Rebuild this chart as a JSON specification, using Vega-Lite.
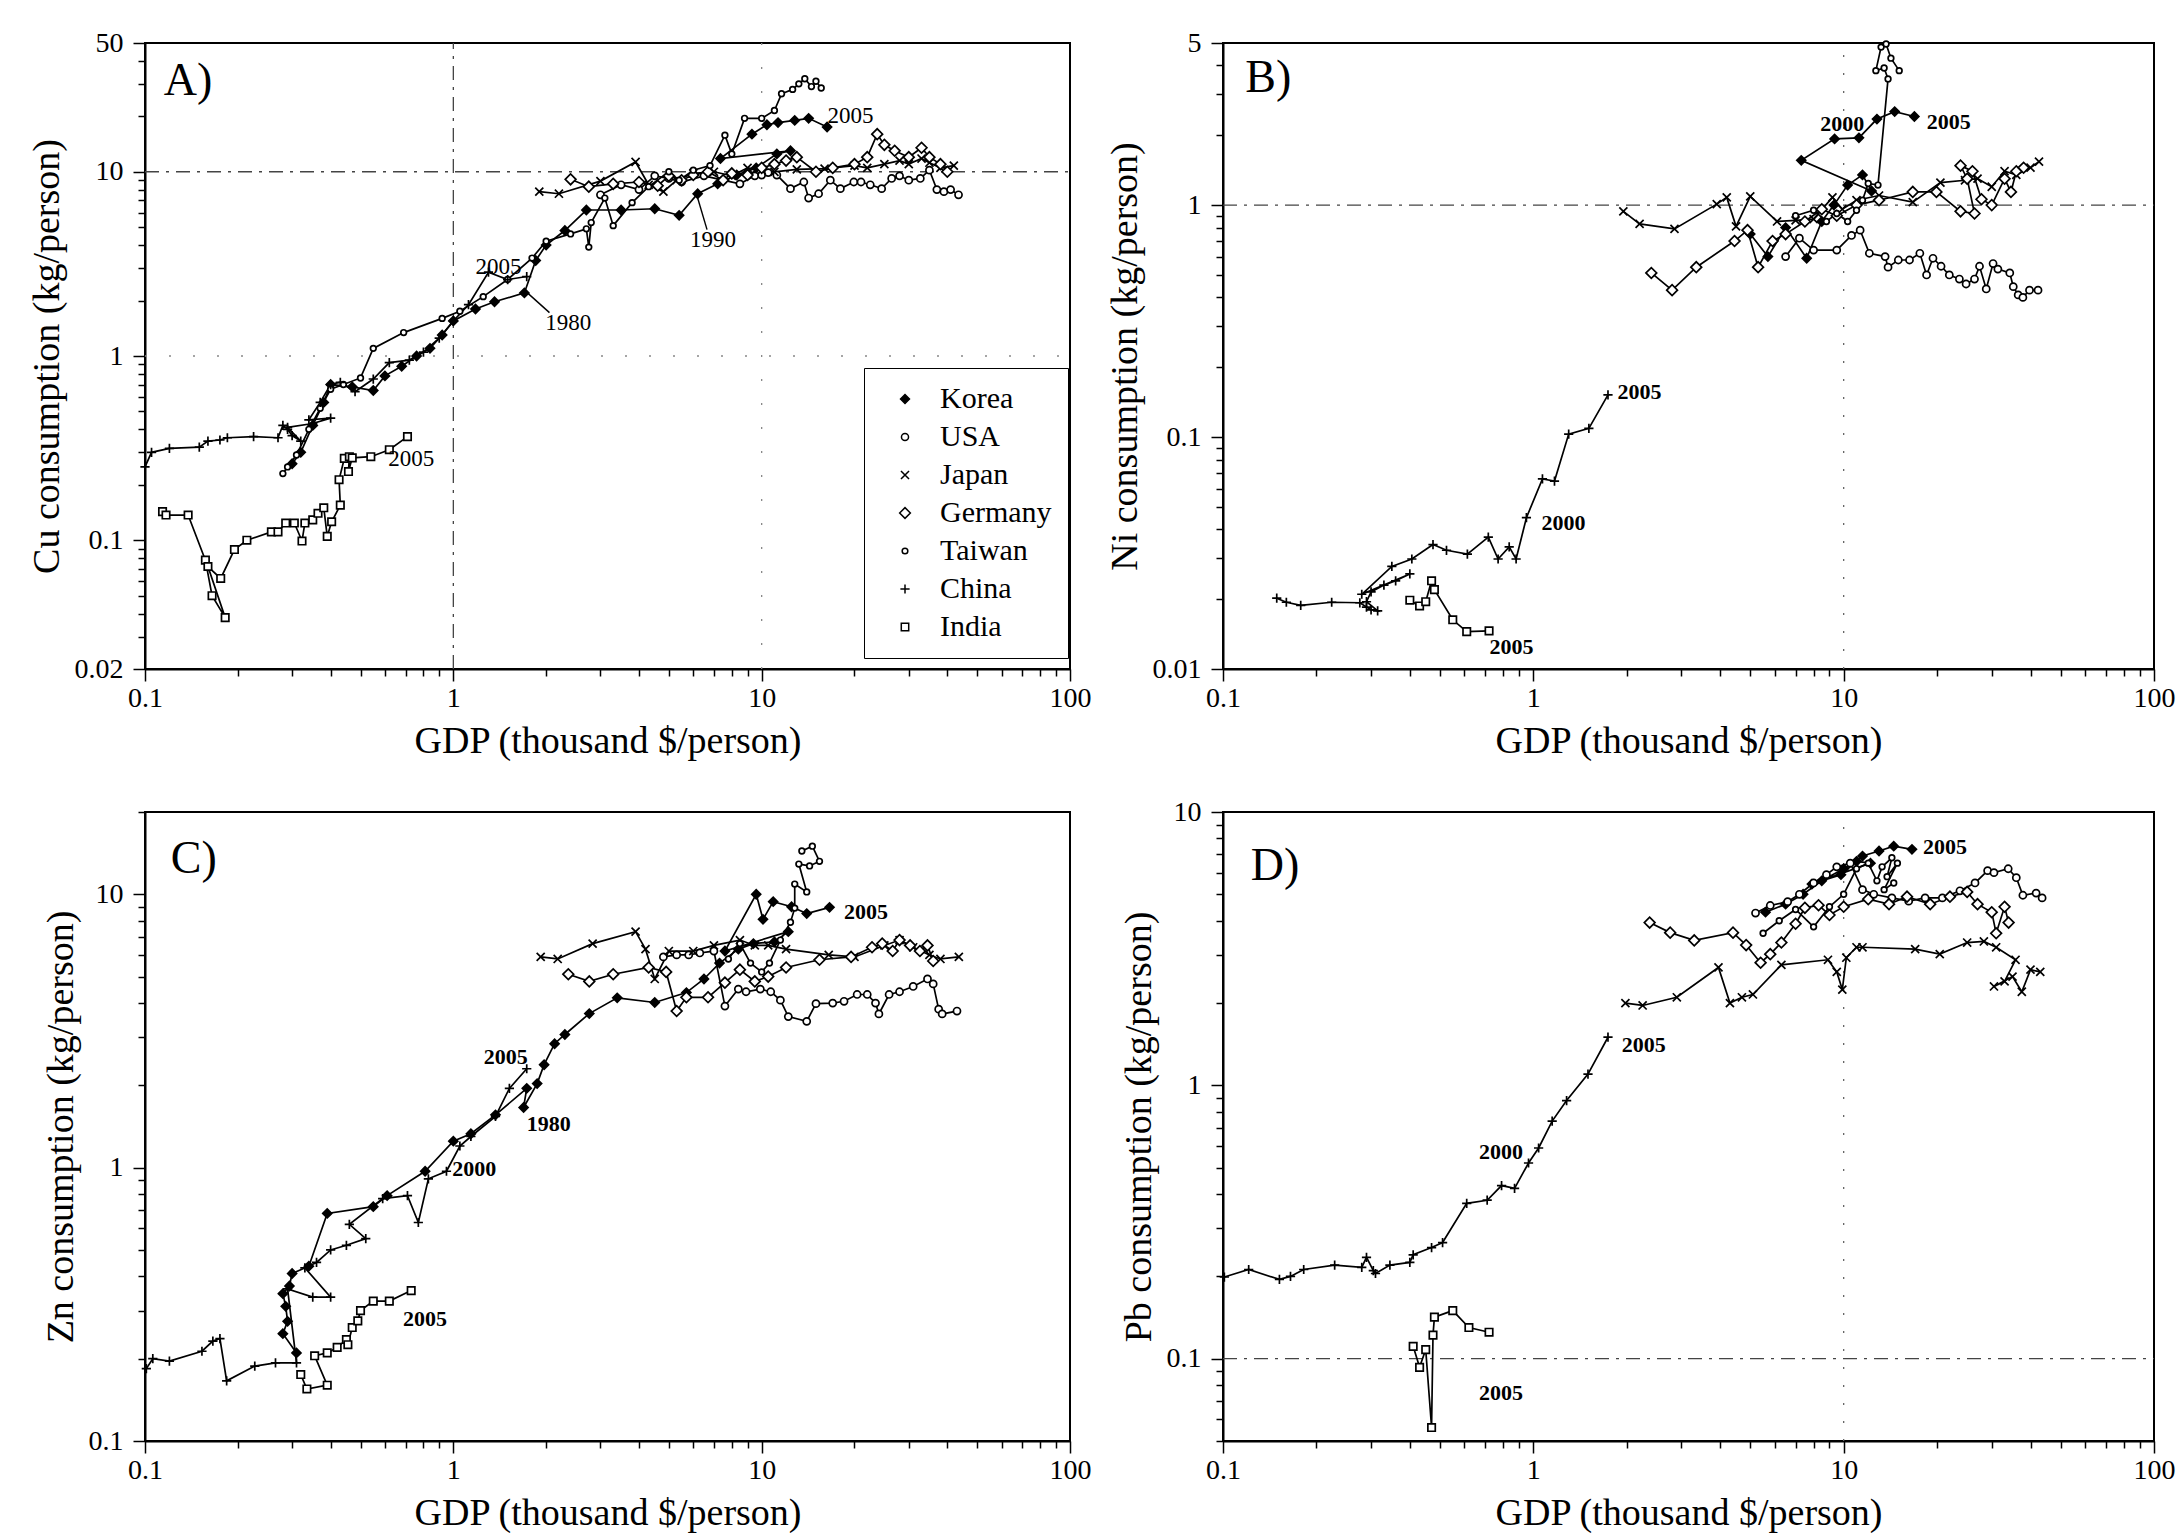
{
"$schema":"https://vega.github.io/schema/vega-lite/v6.json",
"background":"white",
"padding":{"left":27,"top":28,"right":0,"bottom":0},
"datasets":{
"pts":[
{"p":"A","c":"Korea","i":0,"x":0.30,"y":0.26},{"p":"A","c":"Korea","i":1,"x":0.32,"y":0.30},{"p":"A","c":"Korea","i":2,"x":0.35,"y":0.42},{"p":"A","c":"Korea","i":3,"x":0.38,"y":0.56},{"p":"A","c":"Korea","i":4,"x":0.40,"y":0.70},{"p":"A","c":"Korea","i":5,"x":0.47,"y":0.68},{"p":"A","c":"Korea","i":6,"x":0.55,"y":0.65},{"p":"A","c":"Korea","i":7,"x":0.60,"y":0.78},{"p":"A","c":"Korea","i":8,"x":0.68,"y":0.88},{"p":"A","c":"Korea","i":9,"x":0.76,"y":1.0},{"p":"A","c":"Korea","i":10,"x":0.84,"y":1.1},{"p":"A","c":"Korea","i":11,"x":0.92,"y":1.3},{"p":"A","c":"Korea","i":12,"x":1.0,"y":1.55},{"p":"A","c":"Korea","i":13,"x":1.18,"y":1.8},{"p":"A","c":"Korea","i":14,"x":1.36,"y":1.97},{"p":"A","c":"Korea","i":15,"x":1.70,"y":2.2},{"p":"A","c":"Korea","i":16,"x":1.85,"y":3.3},{"p":"A","c":"Korea","i":17,"x":2.0,"y":4.0},{"p":"A","c":"Korea","i":18,"x":2.3,"y":4.8},{"p":"A","c":"Korea","i":19,"x":2.7,"y":6.2},{"p":"A","c":"Korea","i":20,"x":3.5,"y":6.2},{"p":"A","c":"Korea","i":21,"x":4.5,"y":6.3},{"p":"A","c":"Korea","i":22,"x":5.4,"y":5.8},{"p":"A","c":"Korea","i":23,"x":6.2,"y":7.6},{"p":"A","c":"Korea","i":24,"x":7.2,"y":8.6},{"p":"A","c":"Korea","i":25,"x":8.3,"y":9.6},{"p":"A","c":"Korea","i":26,"x":9.6,"y":10.5},{"p":"A","c":"Korea","i":27,"x":11.2,"y":12.5},{"p":"A","c":"Korea","i":28,"x":12.4,"y":13.0},{"p":"A","c":"Korea","i":29,"x":7.35,"y":11.8},{"p":"A","c":"Korea","i":30,"x":9.3,"y":16},{"p":"A","c":"Korea","i":31,"x":10.4,"y":18},{"p":"A","c":"Korea","i":32,"x":11.3,"y":18.5},{"p":"A","c":"Korea","i":33,"x":12.8,"y":19},{"p":"A","c":"Korea","i":34,"x":14.2,"y":19.5},{"p":"A","c":"Korea","i":35,"x":16.3,"y":17.5},
{"p":"A","c":"USA","i":0,"x":3.0,"y":7.5},{"p":"A","c":"USA","i":1,"x":3.5,"y":8.5},{"p":"A","c":"USA","i":2,"x":4.0,"y":8.0},{"p":"A","c":"USA","i":3,"x":4.5,"y":9.5},{"p":"A","c":"USA","i":4,"x":5.0,"y":9.2},{"p":"A","c":"USA","i":5,"x":5.5,"y":8.8},{"p":"A","c":"USA","i":6,"x":6.5,"y":9.5},{"p":"A","c":"USA","i":7,"x":7.5,"y":9.0},{"p":"A","c":"USA","i":8,"x":8.5,"y":8.6},{"p":"A","c":"USA","i":9,"x":9.5,"y":9.5},{"p":"A","c":"USA","i":10,"x":10.0,"y":9.6},{"p":"A","c":"USA","i":11,"x":10.5,"y":9.9},{"p":"A","c":"USA","i":12,"x":11.2,"y":9.6},{"p":"A","c":"USA","i":13,"x":12.4,"y":8.1},{"p":"A","c":"USA","i":14,"x":13.7,"y":8.8},{"p":"A","c":"USA","i":15,"x":14.2,"y":7.2},{"p":"A","c":"USA","i":16,"x":15.3,"y":7.6},{"p":"A","c":"USA","i":17,"x":16.7,"y":9.0},{"p":"A","c":"USA","i":18,"x":18.0,"y":8.1},{"p":"A","c":"USA","i":19,"x":19.9,"y":8.8},{"p":"A","c":"USA","i":20,"x":21.0,"y":8.8},{"p":"A","c":"USA","i":21,"x":22.5,"y":8.5},{"p":"A","c":"USA","i":22,"x":24.5,"y":8.1},{"p":"A","c":"USA","i":23,"x":26.4,"y":9.2},{"p":"A","c":"USA","i":24,"x":28.0,"y":9.5},{"p":"A","c":"USA","i":25,"x":30.0,"y":9.0},{"p":"A","c":"USA","i":26,"x":32.7,"y":9.2},{"p":"A","c":"USA","i":27,"x":35.0,"y":10.2},{"p":"A","c":"USA","i":28,"x":37.0,"y":8.0},{"p":"A","c":"USA","i":29,"x":39.0,"y":7.8},{"p":"A","c":"USA","i":30,"x":41.0,"y":8.0},{"p":"A","c":"USA","i":31,"x":43.5,"y":7.5},
{"p":"A","c":"Japan","i":0,"x":1.9,"y":7.8},{"p":"A","c":"Japan","i":1,"x":2.2,"y":7.6},{"p":"A","c":"Japan","i":2,"x":3.0,"y":8.9},{"p":"A","c":"Japan","i":3,"x":3.9,"y":11.3},{"p":"A","c":"Japan","i":4,"x":4.3,"y":8.5},{"p":"A","c":"Japan","i":5,"x":4.8,"y":7.8},{"p":"A","c":"Japan","i":6,"x":5.3,"y":9.0},{"p":"A","c":"Japan","i":7,"x":6.0,"y":9.8},{"p":"A","c":"Japan","i":8,"x":7.0,"y":10.0},{"p":"A","c":"Japan","i":9,"x":8.0,"y":9.5},{"p":"A","c":"Japan","i":10,"x":9.0,"y":10.5},{"p":"A","c":"Japan","i":11,"x":10.0,"y":10.2},{"p":"A","c":"Japan","i":12,"x":11.0,"y":10.0},{"p":"A","c":"Japan","i":13,"x":13.0,"y":10.3},{"p":"A","c":"Japan","i":14,"x":16.0,"y":10.4},{"p":"A","c":"Japan","i":15,"x":20.0,"y":10.8},{"p":"A","c":"Japan","i":16,"x":22.0,"y":10.5},{"p":"A","c":"Japan","i":17,"x":25.0,"y":11.0},{"p":"A","c":"Japan","i":18,"x":28.0,"y":11.5},{"p":"A","c":"Japan","i":19,"x":30.0,"y":11.0},{"p":"A","c":"Japan","i":20,"x":33.0,"y":11.8},{"p":"A","c":"Japan","i":21,"x":35.0,"y":11.2},{"p":"A","c":"Japan","i":22,"x":38.0,"y":10.5},{"p":"A","c":"Japan","i":23,"x":42.0,"y":10.8},
{"p":"A","c":"Germany","i":0,"x":2.4,"y":9.1},{"p":"A","c":"Germany","i":1,"x":2.75,"y":8.3},{"p":"A","c":"Germany","i":2,"x":3.3,"y":8.6},{"p":"A","c":"Germany","i":3,"x":4.0,"y":8.8},{"p":"A","c":"Germany","i":4,"x":4.6,"y":8.4},{"p":"A","c":"Germany","i":5,"x":5.0,"y":9.5},{"p":"A","c":"Germany","i":6,"x":5.5,"y":9.0},{"p":"A","c":"Germany","i":7,"x":6.0,"y":9.6},{"p":"A","c":"Germany","i":8,"x":6.7,"y":10.0},{"p":"A","c":"Germany","i":9,"x":7.5,"y":9.0},{"p":"A","c":"Germany","i":10,"x":8.0,"y":9.8},{"p":"A","c":"Germany","i":11,"x":9.0,"y":9.6},{"p":"A","c":"Germany","i":12,"x":10.0,"y":10.5},{"p":"A","c":"Germany","i":13,"x":11.0,"y":11.0},{"p":"A","c":"Germany","i":14,"x":12.0,"y":11.5},{"p":"A","c":"Germany","i":15,"x":13.0,"y":12.0},{"p":"A","c":"Germany","i":16,"x":15.0,"y":10.0},{"p":"A","c":"Germany","i":17,"x":17.0,"y":10.5},{"p":"A","c":"Germany","i":18,"x":20.0,"y":11.0},{"p":"A","c":"Germany","i":19,"x":22.0,"y":12.0},{"p":"A","c":"Germany","i":20,"x":23.7,"y":16.0},{"p":"A","c":"Germany","i":21,"x":25.0,"y":14.0},{"p":"A","c":"Germany","i":22,"x":27.0,"y":13.0},{"p":"A","c":"Germany","i":23,"x":30.0,"y":12.0},{"p":"A","c":"Germany","i":24,"x":33.0,"y":13.5},{"p":"A","c":"Germany","i":25,"x":35.0,"y":12.0},{"p":"A","c":"Germany","i":26,"x":38.0,"y":11.0},{"p":"A","c":"Germany","i":27,"x":40.0,"y":10.0},
{"p":"A","c":"Taiwan","i":0,"x":0.28,"y":0.23},{"p":"A","c":"Taiwan","i":1,"x":0.29,"y":0.25},{"p":"A","c":"Taiwan","i":2,"x":0.31,"y":0.29},{"p":"A","c":"Taiwan","i":3,"x":0.34,"y":0.40},{"p":"A","c":"Taiwan","i":4,"x":0.37,"y":0.52},{"p":"A","c":"Taiwan","i":5,"x":0.40,"y":0.66},{"p":"A","c":"Taiwan","i":6,"x":0.44,"y":0.70},{"p":"A","c":"Taiwan","i":7,"x":0.50,"y":0.76},{"p":"A","c":"Taiwan","i":8,"x":0.55,"y":1.1},{"p":"A","c":"Taiwan","i":9,"x":0.69,"y":1.34},{"p":"A","c":"Taiwan","i":10,"x":0.92,"y":1.6},{"p":"A","c":"Taiwan","i":11,"x":1.05,"y":1.75},{"p":"A","c":"Taiwan","i":12,"x":1.25,"y":2.1},{"p":"A","c":"Taiwan","i":13,"x":1.5,"y":2.6},{"p":"A","c":"Taiwan","i":14,"x":1.8,"y":3.4},{"p":"A","c":"Taiwan","i":15,"x":2.0,"y":4.2},{"p":"A","c":"Taiwan","i":16,"x":2.4,"y":4.6},{"p":"A","c":"Taiwan","i":17,"x":2.7,"y":4.9},{"p":"A","c":"Taiwan","i":18,"x":2.75,"y":3.9},{"p":"A","c":"Taiwan","i":19,"x":2.8,"y":5.3},{"p":"A","c":"Taiwan","i":20,"x":3.1,"y":7.2},{"p":"A","c":"Taiwan","i":21,"x":3.3,"y":5.1},{"p":"A","c":"Taiwan","i":22,"x":3.8,"y":6.8},{"p":"A","c":"Taiwan","i":23,"x":4.3,"y":8.3},{"p":"A","c":"Taiwan","i":24,"x":5.0,"y":10.0},{"p":"A","c":"Taiwan","i":25,"x":5.4,"y":9.0},{"p":"A","c":"Taiwan","i":26,"x":6.0,"y":10.2},{"p":"A","c":"Taiwan","i":27,"x":6.8,"y":10.8},{"p":"A","c":"Taiwan","i":28,"x":7.6,"y":15.8},{"p":"A","c":"Taiwan","i":29,"x":8.0,"y":12.5},{"p":"A","c":"Taiwan","i":30,"x":8.8,"y":19.5},{"p":"A","c":"Taiwan","i":31,"x":10.0,"y":19.5},{"p":"A","c":"Taiwan","i":32,"x":11.0,"y":21.5},{"p":"A","c":"Taiwan","i":33,"x":11.6,"y":26.5},{"p":"A","c":"Taiwan","i":34,"x":12.6,"y":28},{"p":"A","c":"Taiwan","i":35,"x":13.2,"y":30},{"p":"A","c":"Taiwan","i":36,"x":13.8,"y":32},{"p":"A","c":"Taiwan","i":37,"x":14.5,"y":29},{"p":"A","c":"Taiwan","i":38,"x":15.0,"y":31},{"p":"A","c":"Taiwan","i":39,"x":15.6,"y":28.5},
{"p":"A","c":"China","i":0,"x":0.10,"y":0.25},{"p":"A","c":"China","i":1,"x":0.105,"y":0.30},{"p":"A","c":"China","i":2,"x":0.12,"y":0.315},{"p":"A","c":"China","i":3,"x":0.15,"y":0.32},{"p":"A","c":"China","i":4,"x":0.16,"y":0.345},{"p":"A","c":"China","i":5,"x":0.175,"y":0.35},{"p":"A","c":"China","i":6,"x":0.185,"y":0.36},{"p":"A","c":"China","i":7,"x":0.225,"y":0.365},{"p":"A","c":"China","i":8,"x":0.27,"y":0.36},{"p":"A","c":"China","i":9,"x":0.28,"y":0.42},{"p":"A","c":"China","i":10,"x":0.29,"y":0.40},{"p":"A","c":"China","i":11,"x":0.30,"y":0.37},{"p":"A","c":"China","i":12,"x":0.32,"y":0.345},{"p":"A","c":"China","i":13,"x":0.29,"y":0.41},{"p":"A","c":"China","i":14,"x":0.35,"y":0.43},{"p":"A","c":"China","i":15,"x":0.40,"y":0.46},{"p":"A","c":"China","i":16,"x":0.34,"y":0.45},{"p":"A","c":"China","i":17,"x":0.37,"y":0.56},{"p":"A","c":"China","i":18,"x":0.40,"y":0.70},{"p":"A","c":"China","i":19,"x":0.43,"y":0.72},{"p":"A","c":"China","i":20,"x":0.48,"y":0.64},{"p":"A","c":"China","i":21,"x":0.55,"y":0.75},{"p":"A","c":"China","i":22,"x":0.62,"y":0.92},{"p":"A","c":"China","i":23,"x":0.72,"y":0.95},{"p":"A","c":"China","i":24,"x":0.80,"y":1.05},{"p":"A","c":"China","i":25,"x":0.90,"y":1.25},{"p":"A","c":"China","i":26,"x":1.0,"y":1.55},{"p":"A","c":"China","i":27,"x":1.12,"y":1.9},{"p":"A","c":"China","i":28,"x":1.3,"y":2.85},{"p":"A","c":"China","i":29,"x":1.5,"y":2.6},{"p":"A","c":"China","i":30,"x":1.73,"y":2.7},
{"p":"A","c":"India","i":0,"x":0.114,"y":0.143},{"p":"A","c":"India","i":1,"x":0.117,"y":0.137},{"p":"A","c":"India","i":2,"x":0.138,"y":0.137},{"p":"A","c":"India","i":3,"x":0.157,"y":0.078},{"p":"A","c":"India","i":4,"x":0.165,"y":0.05},{"p":"A","c":"India","i":5,"x":0.182,"y":0.038},{"p":"A","c":"India","i":6,"x":0.16,"y":0.072},{"p":"A","c":"India","i":7,"x":0.176,"y":0.062},{"p":"A","c":"India","i":8,"x":0.195,"y":0.089},{"p":"A","c":"India","i":9,"x":0.214,"y":0.10},{"p":"A","c":"India","i":10,"x":0.257,"y":0.111},{"p":"A","c":"India","i":11,"x":0.27,"y":0.111},{"p":"A","c":"India","i":12,"x":0.286,"y":0.124},{"p":"A","c":"India","i":13,"x":0.305,"y":0.124},{"p":"A","c":"India","i":14,"x":0.323,"y":0.099},{"p":"A","c":"India","i":15,"x":0.33,"y":0.124},{"p":"A","c":"India","i":16,"x":0.35,"y":0.129},{"p":"A","c":"India","i":17,"x":0.364,"y":0.14},{"p":"A","c":"India","i":18,"x":0.38,"y":0.15},{"p":"A","c":"India","i":19,"x":0.39,"y":0.105},{"p":"A","c":"India","i":20,"x":0.403,"y":0.126},{"p":"A","c":"India","i":21,"x":0.43,"y":0.155},{"p":"A","c":"India","i":22,"x":0.426,"y":0.213},{"p":"A","c":"India","i":23,"x":0.443,"y":0.278},{"p":"A","c":"India","i":24,"x":0.46,"y":0.284},{"p":"A","c":"India","i":25,"x":0.457,"y":0.236},{"p":"A","c":"India","i":26,"x":0.47,"y":0.28},{"p":"A","c":"India","i":27,"x":0.54,"y":0.284},{"p":"A","c":"India","i":28,"x":0.62,"y":0.31},{"p":"A","c":"India","i":29,"x":0.71,"y":0.365},
{"p":"B","c":"Korea","i":0,"x":5.0,"y":0.75},{"p":"B","c":"Korea","i":1,"x":5.7,"y":0.6},{"p":"B","c":"Korea","i":2,"x":6.5,"y":0.8},{"p":"B","c":"Korea","i":3,"x":7.6,"y":0.59},{"p":"B","c":"Korea","i":4,"x":8.5,"y":0.85},{"p":"B","c":"Korea","i":5,"x":9.3,"y":1.0},{"p":"B","c":"Korea","i":6,"x":10.3,"y":1.22},{"p":"B","c":"Korea","i":7,"x":11.5,"y":1.35},{"p":"B","c":"Korea","i":8,"x":12.3,"y":1.15},{"p":"B","c":"Korea","i":9,"x":7.3,"y":1.56},{"p":"B","c":"Korea","i":10,"x":9.35,"y":1.93},{"p":"B","c":"Korea","i":11,"x":11.2,"y":1.95},{"p":"B","c":"Korea","i":12,"x":12.8,"y":2.35},{"p":"B","c":"Korea","i":13,"x":14.6,"y":2.53},{"p":"B","c":"Korea","i":14,"x":16.9,"y":2.41},
{"p":"B","c":"USA","i":0,"x":6.5,"y":0.6},{"p":"B","c":"USA","i":1,"x":7.2,"y":0.72},{"p":"B","c":"USA","i":2,"x":8.0,"y":0.64},{"p":"B","c":"USA","i":3,"x":9.5,"y":0.64},{"p":"B","c":"USA","i":4,"x":10.6,"y":0.74},{"p":"B","c":"USA","i":5,"x":11.3,"y":0.78},{"p":"B","c":"USA","i":6,"x":12.1,"y":0.62},{"p":"B","c":"USA","i":7,"x":13.6,"y":0.60},{"p":"B","c":"USA","i":8,"x":13.9,"y":0.54},{"p":"B","c":"USA","i":9,"x":15.0,"y":0.58},{"p":"B","c":"USA","i":10,"x":16.3,"y":0.58},{"p":"B","c":"USA","i":11,"x":17.6,"y":0.62},{"p":"B","c":"USA","i":12,"x":18.5,"y":0.50},{"p":"B","c":"USA","i":13,"x":19.4,"y":0.59},{"p":"B","c":"USA","i":14,"x":20.6,"y":0.545},{"p":"B","c":"USA","i":15,"x":21.9,"y":0.50},{"p":"B","c":"USA","i":16,"x":23.6,"y":0.48},{"p":"B","c":"USA","i":17,"x":24.8,"y":0.457},{"p":"B","c":"USA","i":18,"x":26.4,"y":0.48},{"p":"B","c":"USA","i":19,"x":27.4,"y":0.545},{"p":"B","c":"USA","i":20,"x":28.8,"y":0.435},{"p":"B","c":"USA","i":21,"x":30.3,"y":0.56},{"p":"B","c":"USA","i":22,"x":31.4,"y":0.53},{"p":"B","c":"USA","i":23,"x":34.3,"y":0.51},{"p":"B","c":"USA","i":24,"x":35.2,"y":0.445},{"p":"B","c":"USA","i":25,"x":36.5,"y":0.41},{"p":"B","c":"USA","i":26,"x":37.8,"y":0.40},{"p":"B","c":"USA","i":27,"x":39.7,"y":0.43},{"p":"B","c":"USA","i":28,"x":42.3,"y":0.43},
{"p":"B","c":"Japan","i":0,"x":1.95,"y":0.94},{"p":"B","c":"Japan","i":1,"x":2.2,"y":0.83},{"p":"B","c":"Japan","i":2,"x":2.85,"y":0.79},{"p":"B","c":"Japan","i":3,"x":3.9,"y":1.01},{"p":"B","c":"Japan","i":4,"x":4.2,"y":1.08},{"p":"B","c":"Japan","i":5,"x":4.5,"y":0.81},{"p":"B","c":"Japan","i":6,"x":5.0,"y":1.09},{"p":"B","c":"Japan","i":7,"x":6.1,"y":0.85},{"p":"B","c":"Japan","i":8,"x":7.0,"y":0.86},{"p":"B","c":"Japan","i":9,"x":8.0,"y":0.87},{"p":"B","c":"Japan","i":10,"x":9.2,"y":1.08},{"p":"B","c":"Japan","i":11,"x":9.9,"y":0.96},{"p":"B","c":"Japan","i":12,"x":11.0,"y":1.05},{"p":"B","c":"Japan","i":13,"x":13.0,"y":1.1},{"p":"B","c":"Japan","i":14,"x":16.7,"y":1.03},{"p":"B","c":"Japan","i":15,"x":20.5,"y":1.25},{"p":"B","c":"Japan","i":16,"x":24.6,"y":1.28},{"p":"B","c":"Japan","i":17,"x":27.0,"y":1.3},{"p":"B","c":"Japan","i":18,"x":30.0,"y":1.2},{"p":"B","c":"Japan","i":19,"x":33.0,"y":1.4},{"p":"B","c":"Japan","i":20,"x":36.0,"y":1.35},{"p":"B","c":"Japan","i":21,"x":40.0,"y":1.45},{"p":"B","c":"Japan","i":22,"x":42.6,"y":1.54},
{"p":"B","c":"Germany","i":0,"x":2.4,"y":0.51},{"p":"B","c":"Germany","i":1,"x":2.8,"y":0.43},{"p":"B","c":"Germany","i":2,"x":3.35,"y":0.54},{"p":"B","c":"Germany","i":3,"x":4.45,"y":0.70},{"p":"B","c":"Germany","i":4,"x":4.9,"y":0.78},{"p":"B","c":"Germany","i":5,"x":5.3,"y":0.54},{"p":"B","c":"Germany","i":6,"x":5.9,"y":0.70},{"p":"B","c":"Germany","i":7,"x":6.5,"y":0.75},{"p":"B","c":"Germany","i":8,"x":7.5,"y":0.85},{"p":"B","c":"Germany","i":9,"x":8.5,"y":0.96},{"p":"B","c":"Germany","i":10,"x":9.5,"y":0.9},{"p":"B","c":"Germany","i":11,"x":11.0,"y":1.0},{"p":"B","c":"Germany","i":12,"x":13.0,"y":1.05},{"p":"B","c":"Germany","i":13,"x":16.7,"y":1.14},{"p":"B","c":"Germany","i":14,"x":19.9,"y":1.14},{"p":"B","c":"Germany","i":15,"x":23.8,"y":0.94},{"p":"B","c":"Germany","i":16,"x":26.4,"y":0.92},{"p":"B","c":"Germany","i":17,"x":25.0,"y":1.3},{"p":"B","c":"Germany","i":18,"x":23.8,"y":1.48},{"p":"B","c":"Germany","i":19,"x":26.0,"y":1.4},{"p":"B","c":"Germany","i":20,"x":27.8,"y":1.06},{"p":"B","c":"Germany","i":21,"x":30.0,"y":1.0},{"p":"B","c":"Germany","i":22,"x":33.0,"y":1.3},{"p":"B","c":"Germany","i":23,"x":34.6,"y":1.14},{"p":"B","c":"Germany","i":24,"x":36.0,"y":1.4},{"p":"B","c":"Germany","i":25,"x":38.0,"y":1.45},
{"p":"B","c":"Taiwan","i":0,"x":7.0,"y":0.9},{"p":"B","c":"Taiwan","i":1,"x":8.0,"y":0.95},{"p":"B","c":"Taiwan","i":2,"x":8.8,"y":0.85},{"p":"B","c":"Taiwan","i":3,"x":9.5,"y":0.92},{"p":"B","c":"Taiwan","i":4,"x":10.3,"y":0.85},{"p":"B","c":"Taiwan","i":5,"x":11.0,"y":0.95},{"p":"B","c":"Taiwan","i":6,"x":11.5,"y":1.05},{"p":"B","c":"Taiwan","i":7,"x":12.0,"y":1.24},{"p":"B","c":"Taiwan","i":8,"x":12.9,"y":1.22},{"p":"B","c":"Taiwan","i":9,"x":13.9,"y":3.5},{"p":"B","c":"Taiwan","i":10,"x":13.5,"y":3.9},{"p":"B","c":"Taiwan","i":11,"x":12.7,"y":3.8},{"p":"B","c":"Taiwan","i":12,"x":13.2,"y":4.8},{"p":"B","c":"Taiwan","i":13,"x":13.7,"y":4.95},{"p":"B","c":"Taiwan","i":14,"x":14.2,"y":4.3},{"p":"B","c":"Taiwan","i":15,"x":15.1,"y":3.8},
{"p":"B","c":"China","i":0,"x":0.149,"y":0.0202},{"p":"B","c":"China","i":1,"x":0.16,"y":0.0194},{"p":"B","c":"China","i":2,"x":0.178,"y":0.0188},{"p":"B","c":"China","i":3,"x":0.224,"y":0.0194},{"p":"B","c":"China","i":4,"x":0.276,"y":0.0193},{"p":"B","c":"China","i":5,"x":0.29,"y":0.0185},{"p":"B","c":"China","i":6,"x":0.30,"y":0.018},{"p":"B","c":"China","i":7,"x":0.315,"y":0.0178},{"p":"B","c":"China","i":8,"x":0.29,"y":0.0195},{"p":"B","c":"China","i":9,"x":0.30,"y":0.0215},{"p":"B","c":"China","i":10,"x":0.33,"y":0.023},{"p":"B","c":"China","i":11,"x":0.36,"y":0.024},{"p":"B","c":"China","i":12,"x":0.40,"y":0.0257},{"p":"B","c":"China","i":13,"x":0.28,"y":0.021},{"p":"B","c":"China","i":14,"x":0.35,"y":0.0277},{"p":"B","c":"China","i":15,"x":0.406,"y":0.0298},{"p":"B","c":"China","i":16,"x":0.475,"y":0.0344},{"p":"B","c":"China","i":17,"x":0.525,"y":0.0325},{"p":"B","c":"China","i":18,"x":0.613,"y":0.0313},{"p":"B","c":"China","i":19,"x":0.716,"y":0.037},{"p":"B","c":"China","i":20,"x":0.77,"y":0.0298},{"p":"B","c":"China","i":21,"x":0.836,"y":0.0336},{"p":"B","c":"China","i":22,"x":0.88,"y":0.0298},{"p":"B","c":"China","i":23,"x":0.95,"y":0.0449},{"p":"B","c":"China","i":24,"x":1.07,"y":0.066},{"p":"B","c":"China","i":25,"x":1.17,"y":0.0646},{"p":"B","c":"China","i":26,"x":1.30,"y":0.103},{"p":"B","c":"China","i":27,"x":1.51,"y":0.109},{"p":"B","c":"China","i":28,"x":1.74,"y":0.152},
{"p":"B","c":"India","i":0,"x":0.40,"y":0.0198},{"p":"B","c":"India","i":1,"x":0.43,"y":0.0187},{"p":"B","c":"India","i":2,"x":0.45,"y":0.0195},{"p":"B","c":"India","i":3,"x":0.47,"y":0.024},{"p":"B","c":"India","i":4,"x":0.48,"y":0.022},{"p":"B","c":"India","i":5,"x":0.55,"y":0.0163},{"p":"B","c":"India","i":6,"x":0.61,"y":0.0145},{"p":"B","c":"India","i":7,"x":0.72,"y":0.0146},
{"p":"C","c":"Korea","i":0,"x":0.31,"y":0.21},{"p":"C","c":"Korea","i":1,"x":0.28,"y":0.247},{"p":"C","c":"Korea","i":2,"x":0.29,"y":0.274},{"p":"C","c":"Korea","i":3,"x":0.286,"y":0.311},{"p":"C","c":"Korea","i":4,"x":0.28,"y":0.346},{"p":"C","c":"Korea","i":5,"x":0.294,"y":0.369},{"p":"C","c":"Korea","i":6,"x":0.30,"y":0.41},{"p":"C","c":"Korea","i":7,"x":0.34,"y":0.436},{"p":"C","c":"Korea","i":8,"x":0.39,"y":0.68},{"p":"C","c":"Korea","i":9,"x":0.55,"y":0.72},{"p":"C","c":"Korea","i":10,"x":0.61,"y":0.79},{"p":"C","c":"Korea","i":11,"x":0.81,"y":0.97},{"p":"C","c":"Korea","i":12,"x":1.0,"y":1.25},{"p":"C","c":"Korea","i":13,"x":1.14,"y":1.33},{"p":"C","c":"Korea","i":14,"x":1.37,"y":1.56},{"p":"C","c":"Korea","i":15,"x":1.73,"y":1.95},{"p":"C","c":"Korea","i":16,"x":1.69,"y":1.66},{"p":"C","c":"Korea","i":17,"x":1.87,"y":2.03},{"p":"C","c":"Korea","i":18,"x":1.97,"y":2.38},{"p":"C","c":"Korea","i":19,"x":2.13,"y":2.84},{"p":"C","c":"Korea","i":20,"x":2.3,"y":3.07},{"p":"C","c":"Korea","i":21,"x":2.76,"y":3.66},{"p":"C","c":"Korea","i":22,"x":3.4,"y":4.18},{"p":"C","c":"Korea","i":23,"x":4.5,"y":4.02},{"p":"C","c":"Korea","i":24,"x":5.7,"y":4.37},{"p":"C","c":"Korea","i":25,"x":6.5,"y":4.9},{"p":"C","c":"Korea","i":26,"x":7.3,"y":5.6},{"p":"C","c":"Korea","i":27,"x":8.4,"y":6.3},{"p":"C","c":"Korea","i":28,"x":9.4,"y":6.6},{"p":"C","c":"Korea","i":29,"x":11.0,"y":6.7},{"p":"C","c":"Korea","i":30,"x":12.2,"y":7.3},{"p":"C","c":"Korea","i":31,"x":7.6,"y":6.2},{"p":"C","c":"Korea","i":32,"x":9.6,"y":10.0},{"p":"C","c":"Korea","i":33,"x":10.1,"y":8.1},{"p":"C","c":"Korea","i":34,"x":10.9,"y":9.4},{"p":"C","c":"Korea","i":35,"x":12.5,"y":9.0},{"p":"C","c":"Korea","i":36,"x":14.0,"y":8.5},{"p":"C","c":"Korea","i":37,"x":16.6,"y":8.96},
{"p":"C","c":"USA","i":0,"x":4.8,"y":5.9},{"p":"C","c":"USA","i":1,"x":5.3,"y":6.0},{"p":"C","c":"USA","i":2,"x":5.8,"y":6.0},{"p":"C","c":"USA","i":3,"x":6.3,"y":6.1},{"p":"C","c":"USA","i":4,"x":7.0,"y":6.2},{"p":"C","c":"USA","i":5,"x":7.6,"y":3.9},{"p":"C","c":"USA","i":6,"x":8.4,"y":4.5},{"p":"C","c":"USA","i":7,"x":8.9,"y":4.4},{"p":"C","c":"USA","i":8,"x":9.9,"y":4.5},{"p":"C","c":"USA","i":9,"x":10.7,"y":4.4},{"p":"C","c":"USA","i":10,"x":11.5,"y":4.1},{"p":"C","c":"USA","i":11,"x":12.2,"y":3.57},{"p":"C","c":"USA","i":12,"x":14.0,"y":3.43},{"p":"C","c":"USA","i":13,"x":15.0,"y":3.98},{"p":"C","c":"USA","i":14,"x":17.0,"y":4.0},{"p":"C","c":"USA","i":15,"x":18.5,"y":4.06},{"p":"C","c":"USA","i":16,"x":20.4,"y":4.3},{"p":"C","c":"USA","i":17,"x":22.0,"y":4.3},{"p":"C","c":"USA","i":18,"x":23.4,"y":4.0},{"p":"C","c":"USA","i":19,"x":24.0,"y":3.65},{"p":"C","c":"USA","i":20,"x":25.9,"y":4.3},{"p":"C","c":"USA","i":21,"x":28.0,"y":4.4},{"p":"C","c":"USA","i":22,"x":31.0,"y":4.6},{"p":"C","c":"USA","i":23,"x":34.5,"y":4.9},{"p":"C","c":"USA","i":24,"x":36.0,"y":4.7},{"p":"C","c":"USA","i":25,"x":37.5,"y":3.8},{"p":"C","c":"USA","i":26,"x":38.5,"y":3.65},{"p":"C","c":"USA","i":27,"x":43.0,"y":3.74},
{"p":"C","c":"Japan","i":0,"x":1.92,"y":5.9},{"p":"C","c":"Japan","i":1,"x":2.18,"y":5.8},{"p":"C","c":"Japan","i":2,"x":2.83,"y":6.6},{"p":"C","c":"Japan","i":3,"x":3.9,"y":7.3},{"p":"C","c":"Japan","i":4,"x":4.2,"y":6.3},{"p":"C","c":"Japan","i":5,"x":4.5,"y":4.9},{"p":"C","c":"Japan","i":6,"x":5.0,"y":6.2},{"p":"C","c":"Japan","i":7,"x":6.0,"y":6.2},{"p":"C","c":"Japan","i":8,"x":7.0,"y":6.5},{"p":"C","c":"Japan","i":9,"x":8.5,"y":6.8},{"p":"C","c":"Japan","i":10,"x":9.5,"y":6.5},{"p":"C","c":"Japan","i":11,"x":10.5,"y":6.5},{"p":"C","c":"Japan","i":12,"x":12.0,"y":6.3},{"p":"C","c":"Japan","i":13,"x":16.5,"y":6.0},{"p":"C","c":"Japan","i":14,"x":20.0,"y":5.9},{"p":"C","c":"Japan","i":15,"x":25.0,"y":6.5},{"p":"C","c":"Japan","i":16,"x":28.0,"y":6.8},{"p":"C","c":"Japan","i":17,"x":31.0,"y":6.4},{"p":"C","c":"Japan","i":18,"x":35.0,"y":6.0},{"p":"C","c":"Japan","i":19,"x":38.0,"y":5.8},{"p":"C","c":"Japan","i":20,"x":43.6,"y":5.9},
{"p":"C","c":"Germany","i":0,"x":2.36,"y":5.1},{"p":"C","c":"Germany","i":1,"x":2.76,"y":4.8},{"p":"C","c":"Germany","i":2,"x":3.3,"y":5.1},{"p":"C","c":"Germany","i":3,"x":4.3,"y":5.4},{"p":"C","c":"Germany","i":4,"x":4.9,"y":5.2},{"p":"C","c":"Germany","i":5,"x":5.3,"y":3.74},{"p":"C","c":"Germany","i":6,"x":5.7,"y":4.2},{"p":"C","c":"Germany","i":7,"x":6.7,"y":4.2},{"p":"C","c":"Germany","i":8,"x":7.6,"y":4.75},{"p":"C","c":"Germany","i":9,"x":8.5,"y":5.3},{"p":"C","c":"Germany","i":10,"x":9.5,"y":4.8},{"p":"C","c":"Germany","i":11,"x":10.5,"y":5.0},{"p":"C","c":"Germany","i":12,"x":12.0,"y":5.4},{"p":"C","c":"Germany","i":13,"x":15.4,"y":5.76},{"p":"C","c":"Germany","i":14,"x":19.5,"y":5.9},{"p":"C","c":"Germany","i":15,"x":22.8,"y":6.4},{"p":"C","c":"Germany","i":16,"x":24.6,"y":6.6},{"p":"C","c":"Germany","i":17,"x":26.6,"y":6.2},{"p":"C","c":"Germany","i":18,"x":28.0,"y":6.8},{"p":"C","c":"Germany","i":19,"x":30.3,"y":6.5},{"p":"C","c":"Germany","i":20,"x":32.6,"y":6.2},{"p":"C","c":"Germany","i":21,"x":34.5,"y":6.5},{"p":"C","c":"Germany","i":22,"x":36.0,"y":5.7},
{"p":"C","c":"Taiwan","i":0,"x":7.8,"y":5.8},{"p":"C","c":"Taiwan","i":1,"x":8.5,"y":6.6},{"p":"C","c":"Taiwan","i":2,"x":9.2,"y":5.6},{"p":"C","c":"Taiwan","i":3,"x":10.0,"y":5.2},{"p":"C","c":"Taiwan","i":4,"x":10.6,"y":5.6},{"p":"C","c":"Taiwan","i":5,"x":11.5,"y":6.8},{"p":"C","c":"Taiwan","i":6,"x":12.4,"y":7.9},{"p":"C","c":"Taiwan","i":7,"x":12.8,"y":8.9},{"p":"C","c":"Taiwan","i":8,"x":12.8,"y":10.9},{"p":"C","c":"Taiwan","i":9,"x":14.0,"y":10.2},{"p":"C","c":"Taiwan","i":10,"x":13.2,"y":12.9},{"p":"C","c":"Taiwan","i":11,"x":14.3,"y":12.7},{"p":"C","c":"Taiwan","i":12,"x":15.4,"y":13.2},{"p":"C","c":"Taiwan","i":13,"x":14.6,"y":15.0},{"p":"C","c":"Taiwan","i":14,"x":13.5,"y":14.4},
{"p":"C","c":"China","i":0,"x":0.101,"y":0.184},{"p":"C","c":"China","i":1,"x":0.106,"y":0.2},{"p":"C","c":"China","i":2,"x":0.12,"y":0.196},{"p":"C","c":"China","i":3,"x":0.153,"y":0.213},{"p":"C","c":"China","i":4,"x":0.166,"y":0.232},{"p":"C","c":"China","i":5,"x":0.175,"y":0.237},{"p":"C","c":"China","i":6,"x":0.184,"y":0.166},{"p":"C","c":"China","i":7,"x":0.227,"y":0.188},{"p":"C","c":"China","i":8,"x":0.265,"y":0.193},{"p":"C","c":"China","i":9,"x":0.31,"y":0.193},{"p":"C","c":"China","i":10,"x":0.29,"y":0.36},{"p":"C","c":"China","i":11,"x":0.35,"y":0.336},{"p":"C","c":"China","i":12,"x":0.40,"y":0.336},{"p":"C","c":"China","i":13,"x":0.33,"y":0.43},{"p":"C","c":"China","i":14,"x":0.36,"y":0.45},{"p":"C","c":"China","i":15,"x":0.40,"y":0.50},{"p":"C","c":"China","i":16,"x":0.45,"y":0.52},{"p":"C","c":"China","i":17,"x":0.52,"y":0.55},{"p":"C","c":"China","i":18,"x":0.46,"y":0.62},{"p":"C","c":"China","i":19,"x":0.59,"y":0.77},{"p":"C","c":"China","i":20,"x":0.71,"y":0.79},{"p":"C","c":"China","i":21,"x":0.77,"y":0.63},{"p":"C","c":"China","i":22,"x":0.83,"y":0.91},{"p":"C","c":"China","i":23,"x":0.95,"y":0.97},{"p":"C","c":"China","i":24,"x":1.05,"y":1.2},{"p":"C","c":"China","i":25,"x":1.14,"y":1.3},{"p":"C","c":"China","i":26,"x":1.37,"y":1.54},{"p":"C","c":"China","i":27,"x":1.52,"y":1.95},{"p":"C","c":"China","i":28,"x":1.73,"y":2.3},
{"p":"C","c":"India","i":0,"x":0.32,"y":0.175},{"p":"C","c":"India","i":1,"x":0.335,"y":0.155},{"p":"C","c":"India","i":2,"x":0.39,"y":0.16},{"p":"C","c":"India","i":3,"x":0.355,"y":0.205},{"p":"C","c":"India","i":4,"x":0.39,"y":0.21},{"p":"C","c":"India","i":5,"x":0.42,"y":0.22},{"p":"C","c":"India","i":6,"x":0.45,"y":0.235},{"p":"C","c":"India","i":7,"x":0.455,"y":0.225},{"p":"C","c":"India","i":8,"x":0.47,"y":0.26},{"p":"C","c":"India","i":9,"x":0.49,"y":0.275},{"p":"C","c":"India","i":10,"x":0.50,"y":0.30},{"p":"C","c":"India","i":11,"x":0.55,"y":0.325},{"p":"C","c":"India","i":12,"x":0.62,"y":0.325},{"p":"C","c":"India","i":13,"x":0.73,"y":0.355},
{"p":"D","c":"Korea","i":0,"x":5.6,"y":4.3},{"p":"D","c":"Korea","i":1,"x":6.5,"y":4.6},{"p":"D","c":"Korea","i":2,"x":7.4,"y":5.0},{"p":"D","c":"Korea","i":3,"x":8.5,"y":5.6},{"p":"D","c":"Korea","i":4,"x":10.0,"y":6.2},{"p":"D","c":"Korea","i":5,"x":11.0,"y":6.6},{"p":"D","c":"Korea","i":6,"x":12.2,"y":6.5},{"p":"D","c":"Korea","i":7,"x":7.9,"y":5.45},{"p":"D","c":"Korea","i":8,"x":9.8,"y":5.9},{"p":"D","c":"Korea","i":9,"x":11.5,"y":6.9},{"p":"D","c":"Korea","i":10,"x":13.0,"y":7.2},{"p":"D","c":"Korea","i":11,"x":14.5,"y":7.5},{"p":"D","c":"Korea","i":12,"x":16.6,"y":7.3},
{"p":"D","c":"USA","i":0,"x":5.2,"y":4.27},{"p":"D","c":"USA","i":1,"x":5.8,"y":4.55},{"p":"D","c":"USA","i":2,"x":6.6,"y":4.7},{"p":"D","c":"USA","i":3,"x":7.2,"y":5.0},{"p":"D","c":"USA","i":4,"x":8.0,"y":5.5},{"p":"D","c":"USA","i":5,"x":8.8,"y":5.9},{"p":"D","c":"USA","i":6,"x":9.5,"y":6.3},{"p":"D","c":"USA","i":7,"x":10.5,"y":6.5},{"p":"D","c":"USA","i":8,"x":11.5,"y":5.2},{"p":"D","c":"USA","i":9,"x":12.5,"y":5.0},{"p":"D","c":"USA","i":10,"x":14.3,"y":4.85},{"p":"D","c":"USA","i":11,"x":16.2,"y":4.72},{"p":"D","c":"USA","i":12,"x":18.3,"y":4.85},{"p":"D","c":"USA","i":13,"x":20.8,"y":4.85},{"p":"D","c":"USA","i":14,"x":23.7,"y":5.15},{"p":"D","c":"USA","i":15,"x":26.5,"y":5.5},{"p":"D","c":"USA","i":16,"x":29.1,"y":6.1},{"p":"D","c":"USA","i":17,"x":30.5,"y":6.0},{"p":"D","c":"USA","i":18,"x":33.9,"y":6.2},{"p":"D","c":"USA","i":19,"x":36.0,"y":5.75},{"p":"D","c":"USA","i":20,"x":37.8,"y":4.96},{"p":"D","c":"USA","i":21,"x":41.7,"y":5.05},{"p":"D","c":"USA","i":22,"x":43.6,"y":4.85},
{"p":"D","c":"Japan","i":0,"x":1.98,"y":2.0},{"p":"D","c":"Japan","i":1,"x":2.25,"y":1.96},{"p":"D","c":"Japan","i":2,"x":2.9,"y":2.1},{"p":"D","c":"Japan","i":3,"x":3.95,"y":2.7},{"p":"D","c":"Japan","i":4,"x":4.3,"y":2.0},{"p":"D","c":"Japan","i":5,"x":4.7,"y":2.1},{"p":"D","c":"Japan","i":6,"x":5.1,"y":2.15},{"p":"D","c":"Japan","i":7,"x":6.3,"y":2.76},{"p":"D","c":"Japan","i":8,"x":8.9,"y":2.88},{"p":"D","c":"Japan","i":9,"x":9.5,"y":2.6},{"p":"D","c":"Japan","i":10,"x":9.9,"y":2.24},{"p":"D","c":"Japan","i":11,"x":10.2,"y":2.93},{"p":"D","c":"Japan","i":12,"x":11.0,"y":3.2},{"p":"D","c":"Japan","i":13,"x":11.5,"y":3.2},{"p":"D","c":"Japan","i":14,"x":17.0,"y":3.15},{"p":"D","c":"Japan","i":15,"x":20.4,"y":3.02},{"p":"D","c":"Japan","i":16,"x":25.0,"y":3.33},{"p":"D","c":"Japan","i":17,"x":28.3,"y":3.36},{"p":"D","c":"Japan","i":18,"x":31.0,"y":3.2},{"p":"D","c":"Japan","i":19,"x":35.8,"y":2.88},{"p":"D","c":"Japan","i":20,"x":33.0,"y":2.4},{"p":"D","c":"Japan","i":21,"x":30.5,"y":2.3},{"p":"D","c":"Japan","i":22,"x":35.0,"y":2.5},{"p":"D","c":"Japan","i":23,"x":37.5,"y":2.2},{"p":"D","c":"Japan","i":24,"x":40.0,"y":2.65},{"p":"D","c":"Japan","i":25,"x":43.0,"y":2.6},
{"p":"D","c":"Germany","i":0,"x":2.37,"y":3.94},{"p":"D","c":"Germany","i":1,"x":2.76,"y":3.62},{"p":"D","c":"Germany","i":2,"x":3.3,"y":3.39},{"p":"D","c":"Germany","i":3,"x":4.4,"y":3.62},{"p":"D","c":"Germany","i":4,"x":4.85,"y":3.26},{"p":"D","c":"Germany","i":5,"x":5.4,"y":2.81},{"p":"D","c":"Germany","i":6,"x":5.8,"y":3.02},{"p":"D","c":"Germany","i":7,"x":6.3,"y":3.33},{"p":"D","c":"Germany","i":8,"x":7.0,"y":3.9},{"p":"D","c":"Germany","i":9,"x":7.5,"y":4.46},{"p":"D","c":"Germany","i":10,"x":8.3,"y":4.56},{"p":"D","c":"Germany","i":11,"x":9.0,"y":4.2},{"p":"D","c":"Germany","i":12,"x":10.0,"y":4.5},{"p":"D","c":"Germany","i":13,"x":12.0,"y":4.8},{"p":"D","c":"Germany","i":14,"x":14.0,"y":4.6},{"p":"D","c":"Germany","i":15,"x":16.0,"y":4.9},{"p":"D","c":"Germany","i":16,"x":19.0,"y":4.6},{"p":"D","c":"Germany","i":17,"x":22.0,"y":4.9},{"p":"D","c":"Germany","i":18,"x":25.0,"y":5.1},{"p":"D","c":"Germany","i":19,"x":27.0,"y":4.6},{"p":"D","c":"Germany","i":20,"x":30.0,"y":4.3},{"p":"D","c":"Germany","i":21,"x":31.0,"y":3.6},{"p":"D","c":"Germany","i":22,"x":33.0,"y":4.5},{"p":"D","c":"Germany","i":23,"x":34.0,"y":3.94},
{"p":"D","c":"Taiwan","i":0,"x":5.5,"y":3.6},{"p":"D","c":"Taiwan","i":1,"x":6.2,"y":4.0},{"p":"D","c":"Taiwan","i":2,"x":7.0,"y":4.4},{"p":"D","c":"Taiwan","i":3,"x":8.0,"y":3.8},{"p":"D","c":"Taiwan","i":4,"x":9.0,"y":4.5},{"p":"D","c":"Taiwan","i":5,"x":10.0,"y":5.0},{"p":"D","c":"Taiwan","i":6,"x":11.0,"y":6.2},{"p":"D","c":"Taiwan","i":7,"x":12.0,"y":6.5},{"p":"D","c":"Taiwan","i":8,"x":12.8,"y":5.6},{"p":"D","c":"Taiwan","i":9,"x":13.3,"y":6.3},{"p":"D","c":"Taiwan","i":10,"x":14.3,"y":6.8},{"p":"D","c":"Taiwan","i":11,"x":13.8,"y":5.8},{"p":"D","c":"Taiwan","i":12,"x":14.9,"y":6.5},{"p":"D","c":"Taiwan","i":13,"x":13.5,"y":5.2},{"p":"D","c":"Taiwan","i":14,"x":14.5,"y":5.5},
{"p":"D","c":"China","i":0,"x":0.101,"y":0.199},{"p":"D","c":"China","i":1,"x":0.121,"y":0.212},{"p":"D","c":"China","i":2,"x":0.152,"y":0.195},{"p":"D","c":"China","i":3,"x":0.165,"y":0.2},{"p":"D","c":"China","i":4,"x":0.182,"y":0.212},{"p":"D","c":"China","i":5,"x":0.229,"y":0.22},{"p":"D","c":"China","i":6,"x":0.28,"y":0.216},{"p":"D","c":"China","i":7,"x":0.29,"y":0.235},{"p":"D","c":"China","i":8,"x":0.305,"y":0.21},{"p":"D","c":"China","i":9,"x":0.31,"y":0.205},{"p":"D","c":"China","i":10,"x":0.345,"y":0.22},{"p":"D","c":"China","i":11,"x":0.40,"y":0.225},{"p":"D","c":"China","i":12,"x":0.41,"y":0.24},{"p":"D","c":"China","i":13,"x":0.47,"y":0.255},{"p":"D","c":"China","i":14,"x":0.51,"y":0.266},{"p":"D","c":"China","i":15,"x":0.61,"y":0.37},{"p":"D","c":"China","i":16,"x":0.71,"y":0.38},{"p":"D","c":"China","i":17,"x":0.79,"y":0.43},{"p":"D","c":"China","i":18,"x":0.87,"y":0.42},{"p":"D","c":"China","i":19,"x":0.965,"y":0.52},{"p":"D","c":"China","i":20,"x":1.04,"y":0.59},{"p":"D","c":"China","i":21,"x":1.15,"y":0.74},{"p":"D","c":"China","i":22,"x":1.28,"y":0.88},{"p":"D","c":"China","i":23,"x":1.5,"y":1.1},{"p":"D","c":"China","i":24,"x":1.74,"y":1.5},
{"p":"D","c":"India","i":0,"x":0.41,"y":0.111},{"p":"D","c":"India","i":1,"x":0.43,"y":0.093},{"p":"D","c":"India","i":2,"x":0.45,"y":0.108},{"p":"D","c":"India","i":3,"x":0.47,"y":0.056},{"p":"D","c":"India","i":4,"x":0.475,"y":0.122},{"p":"D","c":"India","i":5,"x":0.48,"y":0.142},{"p":"D","c":"India","i":6,"x":0.55,"y":0.15},{"p":"D","c":"India","i":7,"x":0.62,"y":0.13},{"p":"D","c":"India","i":8,"x":0.72,"y":0.125}
],
"refs":[
{"p":"A","d":"s","x":0.1,"x2":100,"y":10,"y2":10},
{"p":"A","d":"s","x":1,"x2":1,"y":0.02,"y2":50},
{"p":"A","d":"f","x":0.1,"x2":100,"y":1,"y2":1},
{"p":"A","d":"f","x":10,"x2":10,"y":0.02,"y2":50},
{"p":"B","d":"s","x":0.1,"x2":100,"y":1,"y2":1},
{"p":"B","d":"f","x":10,"x2":10,"y":0.01,"y2":5},
{"p":"D","d":"s","x":0.1,"x2":100,"y":0.1,"y2":0.1},
{"p":"D","d":"f","x":10,"x2":10,"y":0.05,"y2":10}
],
"ldr":[
{"p":"A","x":1.75,"y":2.18,"x2":2.05,"y2":1.72},
{"p":"A","x":6.2,"y":7.2,"x2":6.65,"y2":4.85}
],
"txt":[
{"p":"A","t":"2005","x":1.40,"y":3.05},
{"p":"A","t":"1980","x":2.36,"y":1.51},
{"p":"A","t":"1990","x":6.95,"y":4.25},
{"p":"A","t":"2005","x":19.4,"y":20.1},
{"p":"A","t":"2005","x":0.73,"y":0.275},
{"p":"B","t":"2000","x":9.9,"y":2.24},
{"p":"B","t":"2005","x":21.8,"y":2.29},
{"p":"B","t":"2005","x":2.2,"y":0.157},
{"p":"B","t":"2000","x":1.25,"y":0.0428},
{"p":"B","t":"2005","x":0.85,"y":0.0125},
{"p":"C","t":"2005","x":21.8,"y":8.58},
{"p":"C","t":"2005","x":1.48,"y":2.53},
{"p":"C","t":"1980","x":2.04,"y":1.45},
{"p":"C","t":"2000","x":1.17,"y":0.99},
{"p":"C","t":"2005","x":0.81,"y":0.28},
{"p":"D","t":"2005","x":21.2,"y":7.42},
{"p":"D","t":"2005","x":2.27,"y":1.41},
{"p":"D","t":"2000","x":0.786,"y":0.571},
{"p":"D","t":"2005","x":0.786,"y":0.075}
],
"let":[
{"p":"A","t":"A)","x":0.138,"y":31},
{"p":"B","t":"B)","x":0.14,"y":3.54},
{"p":"C","t":"C)","x":0.144,"y":13.5},
{"p":"D","t":"D)","x":0.147,"y":6.36}
]
},
"concat":[
{
"width":925,"height":626,
"encoding":{
"x":{"field":"x","type":"quantitative","scale":{"type":"log","domain":[0.1,100],"nice":false},"axis":{"title":"GDP (thousand $/person)","values":[0.1,0.2,0.3,0.4,0.5,0.6,0.7,0.8,0.9,1,2,3,4,5,6,7,8,9,10,20,30,40,50,60,70,80,90,100],"labelExpr":"indexof([0.1,1,10,100],datum.value)>=0 ? format(datum.value,'~g') : ''","tickSize":{"condition":{"test":"indexof([0.1,1,10,100],datum.value)>=0","value":12},"value":7}}},
"y":{"field":"y","type":"quantitative","scale":{"type":"log","domain":[0.02,50],"nice":false},"axis":{"title":"Cu consumption (kg/person)","values":[0.02,0.03,0.04,0.05,0.06,0.07,0.08,0.09,0.1,0.2,0.3,0.4,0.5,0.6,0.7,0.8,0.9,1,2,3,4,5,6,7,8,9,10,20,30,40,50],"labelExpr":"indexof([0.02,0.1,1,10,50],datum.value)>=0 ? format(datum.value,'~g') : ''","tickSize":{"condition":{"test":"indexof([0.02,0.1,1,10,50],datum.value)>=0","value":12},"value":7}}}
},
"layer":[
{"data":{"name":"refs"},"transform":[{"filter":"datum.p=='A' && datum.d=='s'"}],"mark":{"type":"rule","color":"#444","strokeWidth":1.3,"strokeDash":[14,7,3,7]},"encoding":{"x2":{"field":"x2"},"y2":{"field":"y2"}}},
{"data":{"name":"refs"},"transform":[{"filter":"datum.p=='A' && datum.d=='f'"}],"mark":{"type":"rule","color":"#888","strokeWidth":1.3,"strokeDash":[2,22]},"encoding":{"x2":{"field":"x2"},"y2":{"field":"y2"}}},
{"data":{"name":"pts"},"transform":[{"filter":"datum.p=='A'"}],"mark":{"type":"line","color":"black","strokeWidth":1.7},"encoding":{"detail":{"field":"c"},"order":{"field":"i","type":"quantitative"}}},
{"data":{"name":"pts"},"transform":[{"filter":"datum.p=='A'"}],"mark":{"type":"point","filled":false,"color":"black","stroke":"black","strokeWidth":1.7,"opacity":1},
"encoding":{
"shape":{"field":"c","type":"nominal","scale":{"domain":["Korea","USA","Japan","Germany","Taiwan","China","India"],"range":["diamond","circle","M-1,-1L1,1M-1,1L1,-1","diamond","circle","M-1,0L1,0M0,-1L0,1","square"]},"legend":{"title":null,"orient":"none","legendX":719,"legendY":325,"encode":{"symbols":{"stroke":{"value":"black"},"strokeWidth":{"value":1.8}}}}},
"fill":{"field":"c","type":"nominal","scale":{"domain":["Korea","USA","Japan","Germany","Taiwan","China","India"],"range":["black","white","white","white","white","white","white"]},"legend":{"title":null,"orient":"none","legendX":719,"legendY":325,"encode":{"symbols":{"stroke":{"value":"black"},"strokeWidth":{"value":1.8}}}}},
"size":{"field":"c","type":"nominal","scale":{"type":"ordinal","domain":["Korea","USA","Japan","Germany","Taiwan","China","India"],"range":[80,50,65,115,32,85,55]},"legend":{"title":null,"orient":"none","legendX":719,"legendY":325,"encode":{"symbols":{"stroke":{"value":"black"},"strokeWidth":{"value":1.8}}}}}
}},
{"data":{"name":"ldr"},"transform":[{"filter":"datum.p=='A'"}],"mark":{"type":"rule","color":"black","strokeWidth":1.4},"encoding":{"x2":{"field":"x2"},"y2":{"field":"y2"}}},
{"data":{"name":"txt"},"transform":[{"filter":"datum.p=='A'"}],"mark":{"type":"text","font":"Liberation Serif","fontSize":23,"color":"black"},"encoding":{"text":{"field":"t"}}},
{"data":{"name":"let"},"transform":[{"filter":"datum.p=='A'"}],"mark":{"type":"text","font":"Liberation Serif","fontSize":46,"color":"black"},"encoding":{"text":{"field":"t"}}}
]
},
{
"width":931,"height":626,
"encoding":{
"x":{"field":"x","type":"quantitative","scale":{"type":"log","domain":[0.1,100],"nice":false},"axis":{"title":"GDP (thousand $/person)","values":[0.1,0.2,0.3,0.4,0.5,0.6,0.7,0.8,0.9,1,2,3,4,5,6,7,8,9,10,20,30,40,50,60,70,80,90,100],"labelExpr":"indexof([0.1,1,10,100],datum.value)>=0 ? format(datum.value,'~g') : ''","tickSize":{"condition":{"test":"indexof([0.1,1,10,100],datum.value)>=0","value":12},"value":7}}},
"y":{"field":"y","type":"quantitative","scale":{"type":"log","domain":[0.01,5],"nice":false},"axis":{"title":"Ni consumption (kg/person)","values":[0.01,0.02,0.03,0.04,0.05,0.06,0.07,0.08,0.09,0.1,0.2,0.3,0.4,0.5,0.6,0.7,0.8,0.9,1,2,3,4,5],"labelExpr":"indexof([0.01,0.1,1,5],datum.value)>=0 ? format(datum.value,'~g') : ''","tickSize":{"condition":{"test":"indexof([0.01,0.1,1,5],datum.value)>=0","value":12},"value":7}}}
},
"layer":[
{"data":{"name":"refs"},"transform":[{"filter":"datum.p=='B' && datum.d=='s'"}],"mark":{"type":"rule","color":"#444","strokeWidth":1.3,"strokeDash":[14,7,3,7]},"encoding":{"x2":{"field":"x2"},"y2":{"field":"y2"}}},
{"data":{"name":"refs"},"transform":[{"filter":"datum.p=='B' && datum.d=='f'"}],"mark":{"type":"rule","color":"#666","strokeWidth":1.3,"strokeDash":[2,16]},"encoding":{"x2":{"field":"x2"},"y2":{"field":"y2"}}},
{"data":{"name":"pts"},"transform":[{"filter":"datum.p=='B'"}],"mark":{"type":"line","color":"black","strokeWidth":1.7},"encoding":{"detail":{"field":"c"},"order":{"field":"i","type":"quantitative"}}},
{"data":{"name":"pts"},"transform":[{"filter":"datum.p=='B'"}],"mark":{"type":"point","filled":false,"color":"black","stroke":"black","strokeWidth":1.7,"opacity":1},
"encoding":{
"shape":{"field":"c","type":"nominal","scale":{"domain":["Korea","USA","Japan","Germany","Taiwan","China","India"],"range":["diamond","circle","M-1,-1L1,1M-1,1L1,-1","diamond","circle","M-1,0L1,0M0,-1L0,1","square"]},"legend":null},
"fill":{"field":"c","type":"nominal","scale":{"domain":["Korea","USA","Japan","Germany","Taiwan","China","India"],"range":["black","white","white","white","white","white","white"]},"legend":null},
"size":{"field":"c","type":"nominal","scale":{"type":"ordinal","domain":["Korea","USA","Japan","Germany","Taiwan","China","India"],"range":[80,50,65,115,32,85,55]},"legend":null}
}},
{"data":{"name":"txt"},"transform":[{"filter":"datum.p=='B'"}],"mark":{"type":"text","font":"Liberation Serif","fontSize":22,"fontWeight":"bold","color":"black"},"encoding":{"text":{"field":"t"}}},
{"data":{"name":"let"},"transform":[{"filter":"datum.p=='B'"}],"mark":{"type":"text","font":"Liberation Serif","fontSize":46,"color":"black"},"encoding":{"text":{"field":"t"}}}
]
},
{
"width":925,"height":629,
"encoding":{
"x":{"field":"x","type":"quantitative","scale":{"type":"log","domain":[0.1,100],"nice":false},"axis":{"title":"GDP (thousand $/person)","values":[0.1,0.2,0.3,0.4,0.5,0.6,0.7,0.8,0.9,1,2,3,4,5,6,7,8,9,10,20,30,40,50,60,70,80,90,100],"labelExpr":"indexof([0.1,1,10,100],datum.value)>=0 ? format(datum.value,'~g') : ''","tickSize":{"condition":{"test":"indexof([0.1,1,10,100],datum.value)>=0","value":12},"value":7}}},
"y":{"field":"y","type":"quantitative","scale":{"type":"log","domain":[0.1,20],"nice":false},"axis":{"title":"Zn consumption (kg/person)","values":[0.1,0.2,0.3,0.4,0.5,0.6,0.7,0.8,0.9,1,2,3,4,5,6,7,8,9,10,20],"labelExpr":"indexof([0.1,1,10],datum.value)>=0 ? format(datum.value,'~g') : ''","tickSize":{"condition":{"test":"indexof([0.1,1,10],datum.value)>=0","value":12},"value":7}}}
},
"layer":[
{"data":{"name":"pts"},"transform":[{"filter":"datum.p=='C'"}],"mark":{"type":"line","color":"black","strokeWidth":1.7},"encoding":{"detail":{"field":"c"},"order":{"field":"i","type":"quantitative"}}},
{"data":{"name":"pts"},"transform":[{"filter":"datum.p=='C'"}],"mark":{"type":"point","filled":false,"color":"black","stroke":"black","strokeWidth":1.7,"opacity":1},
"encoding":{
"shape":{"field":"c","type":"nominal","scale":{"domain":["Korea","USA","Japan","Germany","Taiwan","China","India"],"range":["diamond","circle","M-1,-1L1,1M-1,1L1,-1","diamond","circle","M-1,0L1,0M0,-1L0,1","square"]},"legend":null},
"fill":{"field":"c","type":"nominal","scale":{"domain":["Korea","USA","Japan","Germany","Taiwan","China","India"],"range":["black","white","white","white","white","white","white"]},"legend":null},
"size":{"field":"c","type":"nominal","scale":{"type":"ordinal","domain":["Korea","USA","Japan","Germany","Taiwan","China","India"],"range":[80,50,65,115,32,85,55]},"legend":null}
}},
{"data":{"name":"txt"},"transform":[{"filter":"datum.p=='C'"}],"mark":{"type":"text","font":"Liberation Serif","fontSize":22,"fontWeight":"bold","color":"black"},"encoding":{"text":{"field":"t"}}},
{"data":{"name":"let"},"transform":[{"filter":"datum.p=='C'"}],"mark":{"type":"text","font":"Liberation Serif","fontSize":46,"color":"black"},"encoding":{"text":{"field":"t"}}}
]
},
{
"width":931,"height":629,
"encoding":{
"x":{"field":"x","type":"quantitative","scale":{"type":"log","domain":[0.1,100],"nice":false},"axis":{"title":"GDP (thousand $/person)","values":[0.1,0.2,0.3,0.4,0.5,0.6,0.7,0.8,0.9,1,2,3,4,5,6,7,8,9,10,20,30,40,50,60,70,80,90,100],"labelExpr":"indexof([0.1,1,10,100],datum.value)>=0 ? format(datum.value,'~g') : ''","tickSize":{"condition":{"test":"indexof([0.1,1,10,100],datum.value)>=0","value":12},"value":7}}},
"y":{"field":"y","type":"quantitative","scale":{"type":"log","domain":[0.05,10],"nice":false},"axis":{"title":"Pb consumption (kg/person)","values":[0.05,0.06,0.07,0.08,0.09,0.1,0.2,0.3,0.4,0.5,0.6,0.7,0.8,0.9,1,2,3,4,5,6,7,8,9,10],"labelExpr":"indexof([0.1,1,10],datum.value)>=0 ? format(datum.value,'~g') : ''","tickSize":{"condition":{"test":"indexof([0.1,1,10],datum.value)>=0","value":12},"value":7}}}
},
"layer":[
{"data":{"name":"refs"},"transform":[{"filter":"datum.p=='D' && datum.d=='s'"}],"mark":{"type":"rule","color":"#444","strokeWidth":1.3,"strokeDash":[14,7,3,7]},"encoding":{"x2":{"field":"x2"},"y2":{"field":"y2"}}},
{"data":{"name":"refs"},"transform":[{"filter":"datum.p=='D' && datum.d=='f'"}],"mark":{"type":"rule","color":"#666","strokeWidth":1.3,"strokeDash":[2,16]},"encoding":{"x2":{"field":"x2"},"y2":{"field":"y2"}}},
{"data":{"name":"pts"},"transform":[{"filter":"datum.p=='D'"}],"mark":{"type":"line","color":"black","strokeWidth":1.7},"encoding":{"detail":{"field":"c"},"order":{"field":"i","type":"quantitative"}}},
{"data":{"name":"pts"},"transform":[{"filter":"datum.p=='D'"}],"mark":{"type":"point","filled":false,"color":"black","stroke":"black","strokeWidth":1.7,"opacity":1},
"encoding":{
"shape":{"field":"c","type":"nominal","scale":{"domain":["Korea","USA","Japan","Germany","Taiwan","China","India"],"range":["diamond","circle","M-1,-1L1,1M-1,1L1,-1","diamond","circle","M-1,0L1,0M0,-1L0,1","square"]},"legend":null},
"fill":{"field":"c","type":"nominal","scale":{"domain":["Korea","USA","Japan","Germany","Taiwan","China","India"],"range":["black","white","white","white","white","white","white"]},"legend":null},
"size":{"field":"c","type":"nominal","scale":{"type":"ordinal","domain":["Korea","USA","Japan","Germany","Taiwan","China","India"],"range":[80,50,65,115,32,85,55]},"legend":null}
}},
{"data":{"name":"txt"},"transform":[{"filter":"datum.p=='D'"}],"mark":{"type":"text","font":"Liberation Serif","fontSize":22,"fontWeight":"bold","color":"black"},"encoding":{"text":{"field":"t"}}},
{"data":{"name":"let"},"transform":[{"filter":"datum.p=='D'"}],"mark":{"type":"text","font":"Liberation Serif","fontSize":46,"color":"black"},"encoding":{"text":{"field":"t"}}}
]
}
],
"columns":2,
"spacing":{"row":143,"column":153},
"bounds":"flush",
"resolve":{"scale":{"x":"independent","y":"independent"},"legend":{"shape":"independent","fill":"independent","size":"independent"}},
"config":{
"font":"Liberation Serif",
"view":{"stroke":"black","strokeWidth":2},
"axis":{"domainColor":"black","domainWidth":2,"tickColor":"black","tickWidth":1.5,"labelFont":"Liberation Serif","titleFont":"Liberation Serif","labelFontSize":28,"titleFontSize":38,"titleFontWeight":"normal","labelColor":"black","titleColor":"black","grid":false,"labelFlush":false,"labelOverlap":false},
"axisX":{"labelPadding":3,"titlePadding":10},
"axisY":{"labelPadding":10,"titlePadding":8},
"legend":{"labelFont":"Liberation Serif","labelFontSize":30,"labelColor":"black","strokeColor":"black","fillColor":"white","padding":16,"rowPadding":8,"labelOffset":20,"symbolOffset":10}
}
}
